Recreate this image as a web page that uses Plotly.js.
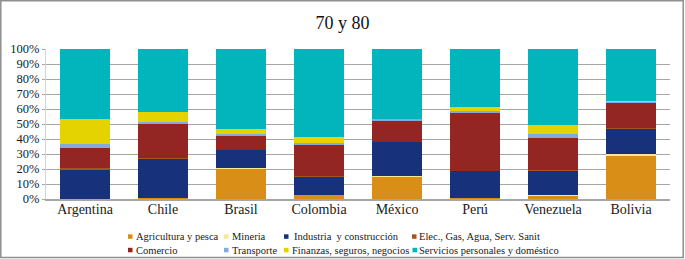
<!DOCTYPE html>
<html>
<head>
<meta charset="utf-8">
<script src="https://cdn.plot.ly/plotly-3.0.1.min.js"></script>
<style>
  html, body { margin: 0; padding: 0; background: #fff; }
  #chart { width: 685px; height: 259px; }
</style>
</head>
<body>
<div id="chart"></div>
<script>
const categories = ["Argentina", "Chile", "Brasil", "Colombia", "México", "Perú", "Venezuela", "Bolivia"];

const agricultura = [0.3, 0.7, 20.0, 2.7, 14.4, 0.9, 2.0, 28.7];
const mineria     = [0.0, 0.0, 0.4, 0.0, 1.1, 0.0, 0.4, 1.1];
const industria   = [19.2, 26.0, 12.3, 12.0, 22.3, 17.8, 16.5, 17.1];
const elec        = [1.5, 0.5, 0.3, 0.4, 0.4, 0.2, 0.7, 0.4];
const comercio    = [13.2, 22.6, 9.2, 20.7, 14.0, 38.2, 21.3, 16.5];
const transporte  = [2.5, 1.3, 1.3, 1.5, 1.1, 1.3, 2.2, 1.1];
const finanzas    = [16.4, 6.7, 2.9, 4.3, 0.0, 3.2, 6.5, 0.2];
const servicios   = [46.9, 42.2, 53.6, 58.4, 46.7, 38.4, 50.4, 34.9];

const seriesNames = [
  "Agricultura y pesca", "Mineria", "Industria  y construcción", "Elec., Gas, Agua, Serv. Sanit",
  "Comercio", "Transporte", "Finanzas, seguros, negocios", "Servicios personales y doméstico"
];
const seriesValues = [agricultura, mineria, industria, elec, comercio, transporte, finanzas, servicios];
const colors = ["#D98F17", "#F8EA94", "#17317B", "#A5541F", "#932522", "#86A9DC", "#E5D300", "#02B5BD"];

const FAMILY = "'Liberation Serif', 'Times New Roman', serif";

const traces = seriesValues.map((vals, i) => ({
  type: "bar",
  name: seriesNames[i],
  x: categories,
  y: vals,
  marker: { color: colors[i], line: { width: 0 } },
  showlegend: false,
  hovertemplate: "%{x}: %{y}%<extra>" + seriesNames[i] + "</extra>"
}));

// plot area in pixels: x 46..670, y 49..199
const L = 46, R = 670, T = 49, B = 199;
const px = v => (v - L) / (R - L);
const py = v => (B - v) / (B - T);

// legend grid layout (marker left px, text left px, row center px)
const legendCells = [
  { i: 0, mx: 128, tx: 135.5, cy: 236.5 },
  { i: 1, mx: 224, tx: 231.5, cy: 236.5 },
  { i: 2, mx: 284, tx: 294.0, cy: 236.5 },
  { i: 3, mx: 412, tx: 419.0, cy: 236.5 },
  { i: 4, mx: 128, tx: 135.5, cy: 250 },
  { i: 5, mx: 224, tx: 231.5, cy: 250 },
  { i: 6, mx: 284, tx: 291.5, cy: 250 },
  { i: 7, mx: 412.5, tx: 419.0, cy: 250 }
];

const shapes = [];
const annotations = [];
legendCells.forEach(c => {
  shapes.push({
    type: "rect", xref: "paper", yref: "paper",
    x0: px(c.mx), x1: px(c.mx + 4.5),
    y0: py(c.cy + 2.3), y1: py(c.cy - 2.2),
    fillcolor: colors[c.i], line: { width: 0 }
  });
  annotations.push({
    xref: "paper", yref: "paper",
    x: px(c.tx), y: py(c.cy),
    xanchor: "left", yanchor: "middle",
    borderpad: 0, borderwidth: 0,
    text: seriesNames[c.i].replace(/  /g, "&nbsp; "),
    showarrow: false,
    font: { family: FAMILY, size: 10.5, color: "#1a1a1a" }
  });
});

// outer frame
shapes.push({
  type: "rect", xref: "paper", yref: "paper",
  x0: px(0.8), x1: px(683.2), y0: py(257.4), y1: py(0.8),
  line: { color: "#8f8f8f", width: 1.5 }, fillcolor: "rgba(0,0,0,0)"
});

const layout = {
  width: 685, height: 259,
  margin: { l: L, r: 685 - R, t: T, b: 259 - B, pad: 0 },
  paper_bgcolor: "#ffffff",
  plot_bgcolor: "#ffffff",
  barmode: "stack",
  bargap: 0.36,
  showlegend: false,
  font: { family: FAMILY, color: "#1a1a1a" },
  title: {
    text: "70 y 80",
    x: 0.5, xanchor: "center",
    y: 1 - 23 / 259, yref: "container", yanchor: "middle",
    font: { family: FAMILY, size: 18, color: "#111" }
  },
  xaxis: {
    type: "category",
    tickfont: { family: FAMILY, size: 14, color: "#1a1a1a" },
    showline: true, linecolor: "#a6a6a6", linewidth: 1.5,
    ticks: "", showgrid: false, fixedrange: true,
    ticklabelstandoff: -3
  },
  yaxis: {
    range: [0, 100],
    dtick: 10, tick0: 0,
    ticksuffix: "%",
    tickfont: { family: FAMILY, size: 12.5, color: "#1a1a1a" },
    showgrid: true, gridcolor: "#a6a6a6", gridwidth: 1,
    zeroline: false, showline: true, linecolor: "#d4d4d4", linewidth: 1,
    ticks: "outside", ticklen: 3, tickcolor: "#a6a6a6", tickwidth: 1,
    fixedrange: true
  },
  shapes: shapes,
  annotations: annotations
};

Plotly.newPlot("chart", traces, layout, { displayModeBar: false, staticPlot: true });
</script>
</body>
</html>
